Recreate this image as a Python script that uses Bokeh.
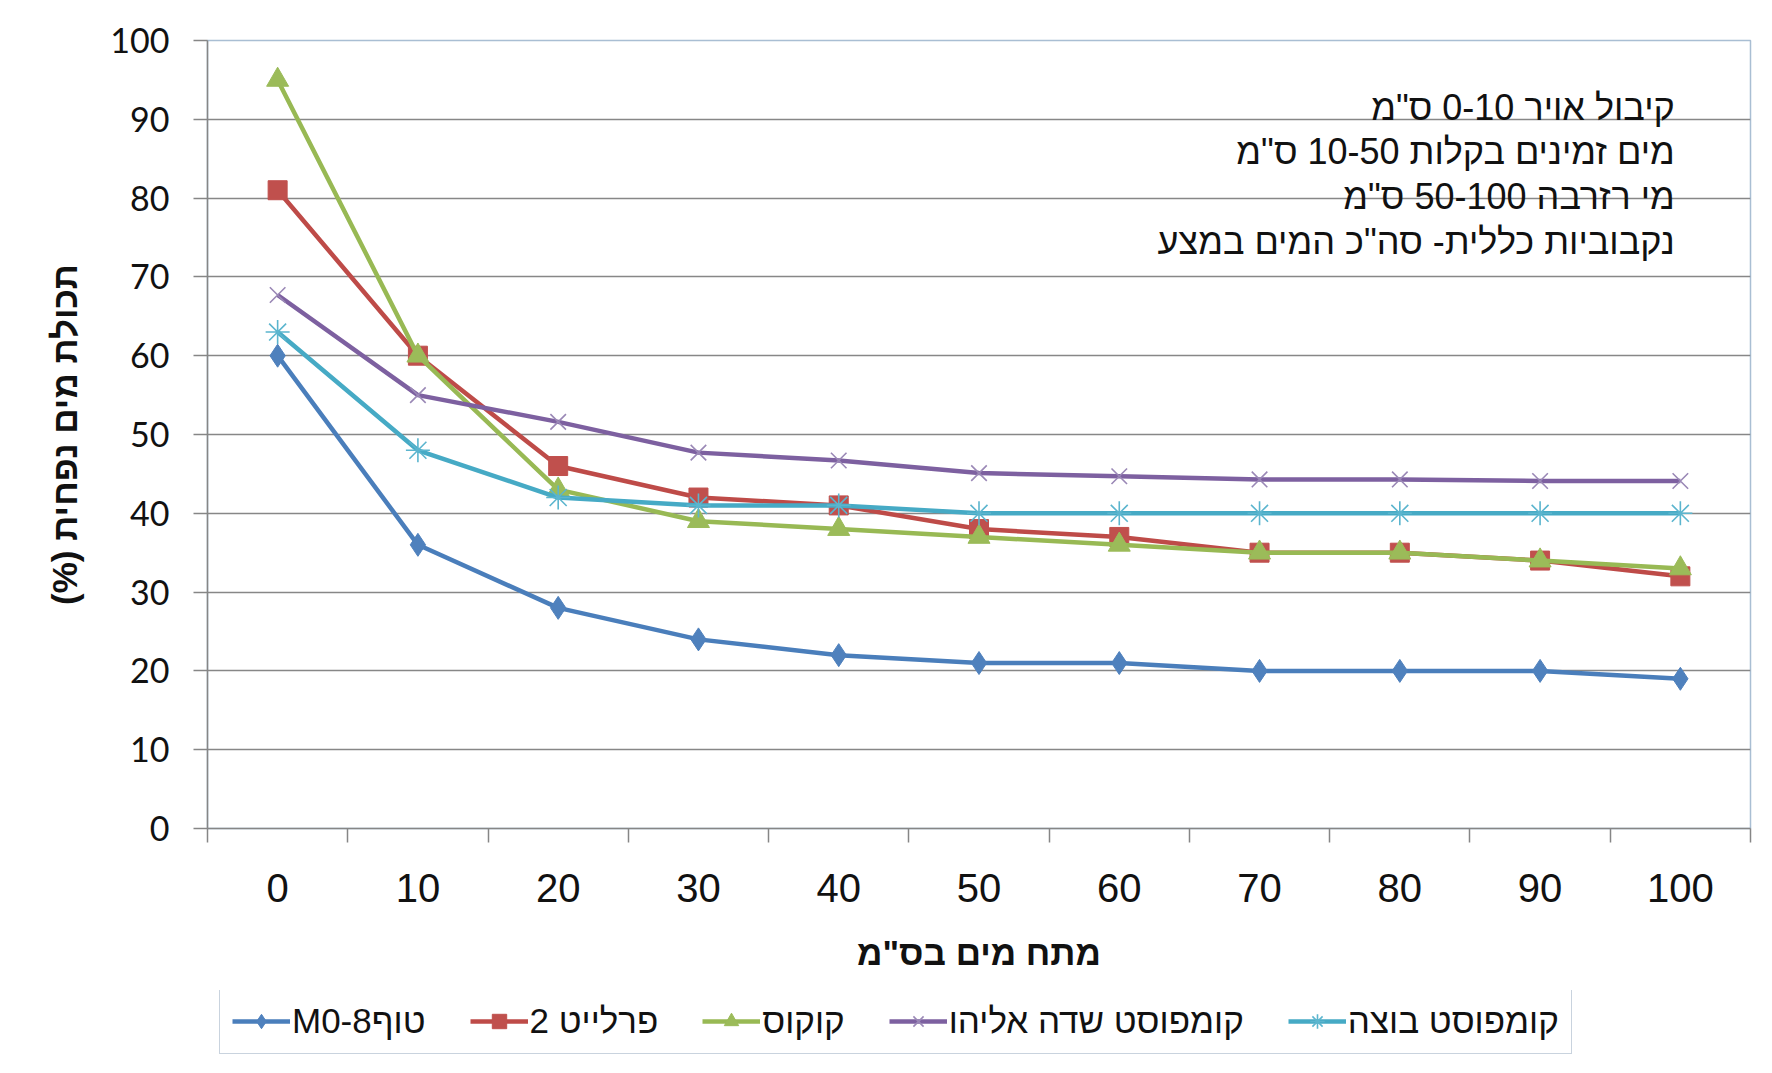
from bokeh.plotting import figure
from bokeh.models import Range1d, FixedTicker, Legend, LegendItem, Label
from bokeh.layouts import column
from bokeh.embed import file_html
from bokeh.resources import INLINE

# ---- data ----
depths = [0, 10, 20, 30, 40, 50, 60, 70, 80, 90, 100]
tuff_m08 = [60, 36, 28, 24, 22, 21, 21, 20, 20, 20, 19]
perlite_2 = [81, 60, 46, 42, 41, 38, 37, 35, 35, 34, 32]
coconut = [95, 60, 43, 39, 38, 37, 36, 35, 35, 34, 33]
compost_eliyahu = [67.7, 55, 51.6, 47.7, 46.7, 45.1, 44.7, 44.3, 44.3, 44.1, 44.1]
compost_sludge = [63, 48, 42, 41, 41, 40, 40, 40, 40, 40, 40]
y_ticks = [0, 10, 20, 30, 40, 50, 60, 70, 80, 90, 100]

series_names = ["M0-8טוף", "פרלייט 2", "קוקוס", "קומפוסט שדה אליהו", "קומפוסט בוצה"]
series_values = [tuff_m08, perlite_2, coconut, compost_eliyahu, compost_sludge]
series_colors = ["#4A7EBB", "#BE4B48", "#98B954", "#7D60A0", "#46AAC5"]
marker_colors = ["#4F81BD", "#C0504D", "#9BBB59", "#9A88B6", "#5BB5CE"]
markers = ["diamond", "square", "triangle", "x", "asterisk"]
marker_sizes = [23, 19, 22, 22, 24]

notes = [
    "קיבול אויר 0-10 ס\"מ",
    "מים זמינים בקלות 10-50 ס\"מ",
    "מי רזרבה 50-100 ס\"מ",
    "נקבוביות כללית- סה\"כ המים במצע",
]
x_title = "מתח מים בס\"מ"
y_title = "(%) תכולת מים נפחית"

GRID = "#878787"
AXIS = "#868686"
W = 1756


def add_series(fig):
    out = []
    for name, vals, lc, mc, mk, ms in zip(series_names, series_values, series_colors,
                                          marker_colors, markers, marker_sizes):
        ln = fig.line(depths, vals, line_color=lc, line_width=4.5)
        if mk in ("x", "asterisk"):
            sc = fig.scatter(depths, vals, marker=mk, size=ms, line_color=mc,
                             line_width=1.6, fill_color=None)
        else:
            sc = fig.scatter(depths, vals, marker=mk, size=ms, fill_color=mc,
                             line_color=mc, line_width=1)
        out.append(LegendItem(label=name, renderers=[ln, sc]))
    return out


# ---------------- main chart ----------------
p = figure(width=W, height=990, output_backend="svg", toolbar_location=None,
           x_range=Range1d(-5, 105), y_range=Range1d(0, 100),
           min_border_left=207, min_border_right=6, min_border_top=40, min_border_bottom=162)
p.background_fill_color = "white"
p.border_fill_color = "white"
p.outline_line_color = "#A9BED3"
p.outline_line_width = 1.5

p.xgrid.grid_line_color = None
p.ygrid.grid_line_color = GRID
p.ygrid.grid_line_width = 1.5
p.ygrid.ticker = FixedTicker(ticks=y_ticks)

p.yaxis.ticker = FixedTicker(ticks=y_ticks)
p.yaxis.axis_line_color = AXIS
p.yaxis.axis_line_width = 1.5
p.yaxis.major_tick_line_color = AXIS
p.yaxis.major_tick_line_width = 1.5
p.yaxis.major_tick_out = 14
p.yaxis.major_tick_in = 0
p.yaxis.minor_tick_line_color = None
p.yaxis.major_label_standoff = 24
p.yaxis.major_label_text_font = "Lato"
p.yaxis.major_label_text_font_size = "34px"
p.yaxis.major_label_text_color = "#111111"
p.yaxis.axis_label = y_title
p.yaxis.axis_label_text_font = "Liberation Sans"
p.yaxis.axis_label_text_font_style = "bold"
p.yaxis.axis_label_text_font_size = "35px"
p.yaxis.axis_label_text_color = "#111111"
p.yaxis.axis_label_standoff = 23

minor = [d - 5 for d in depths] + [depths[-1] + 5]
p.xaxis.ticker = FixedTicker(ticks=depths, minor_ticks=minor)
p.xaxis.axis_line_color = AXIS
p.xaxis.axis_line_width = 1.5
p.xaxis.major_tick_line_color = None
p.xaxis.major_tick_out = 0
p.xaxis.major_tick_in = 0
p.xaxis.minor_tick_line_color = AXIS
p.xaxis.minor_tick_line_width = 1.5
p.xaxis.minor_tick_out = 14
p.xaxis.minor_tick_in = 0
p.xaxis.major_label_standoff = 31
p.xaxis.major_label_text_font = "Liberation Sans"
p.xaxis.major_label_text_font_size = "40px"
p.xaxis.major_label_text_color = "#111111"
p.xaxis.axis_label = x_title
p.xaxis.axis_label_text_font = "Liberation Sans"
p.xaxis.axis_label_text_font_style = "bold"
p.xaxis.axis_label_text_font_size = "35px"
p.xaxis.axis_label_text_color = "#111111"
p.xaxis.axis_label_standoff = 28

add_series(p)

for txt, yy in zip(notes, [91.5, 85.9, 80.2, 74.5]):
    p.add_layout(Label(x=99.6, y=yy, text=txt, text_align="right", text_baseline="middle",
                       text_font="Liberation Sans", text_font_size="36px",
                       text_color="#111111"))

# ---------------- legend strip ----------------
lg = figure(width=W, height=66, output_backend="svg", toolbar_location=None,
            x_range=Range1d(-5, 105), y_range=Range1d(1000, 1100),
            x_axis_location=None, y_axis_location=None,
            min_border_left=0, min_border_right=0, min_border_top=0, min_border_bottom=0)
lg.grid.grid_line_color = None
lg.outline_line_color = None
lg.background_fill_color = "white"
lg.border_fill_color = "white"
legend_items = add_series(lg)

legend = Legend(items=legend_items, orientation="horizontal", location=(12, 2),
                padding=12, margin=0, spacing=44, glyph_width=58, glyph_height=36,
                label_height=36, label_standoff=2,
                label_text_font="Liberation Sans", label_text_font_size="35px",
                label_text_color="#111111",
                border_line_color="#93A8BE", border_line_width=1.5,
                background_fill_color="white", background_fill_alpha=1)
lg.add_layout(legend, "center")

layout = column(p, lg, spacing=0)
open("out.html", "w").write(file_html(layout, INLINE))
